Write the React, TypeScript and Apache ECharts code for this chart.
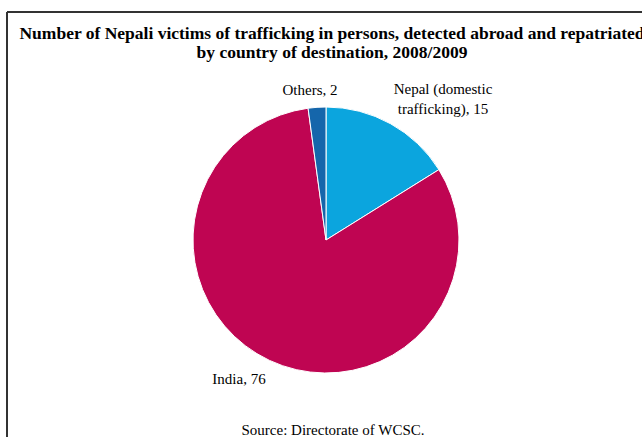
import React, { useEffect, useRef } from "react";
import * as echarts from "echarts";

const categories = ["Nepal (domestic\ntrafficking)", "India", "Others"];
const values = [15, 76, 2];
const colors = ["#0ba5de", "#bf0552", "#1566ab"];
const titleLines = [
  "Number of Nepali victims of trafficking in persons, detected abroad and repatriated",
  "by country of destination, 2008/2009",
];
const sourceText = "Source: Directorate of WCSC.";
const labelPos = [
  { x: 443, y: 79 },
  { x: 239, y: 369 },
  { x: 310, y: 80 },
];

export default function App() {
  const ref = useRef<HTMLDivElement>(null);
  useEffect(() => {
    document.body.style.margin = "0";
    const chart = echarts.init(ref.current!, undefined, { renderer: "svg" });
    chart.setOption({
      animation: false,
      backgroundColor: "#ffffff",
      title: {
        text: titleLines.join("\n"),
        left: 327,
        textAlign: "center",
        top: 18,
        textStyle: {
          fontFamily: "Liberation Serif",
          fontWeight: "bold",
          fontSize: 17.5,
          lineHeight: 19,
          color: "#000",
        },
      },
      graphic: [
        { type: "line", shape: { x1: 7, y1: 12, x2: 642, y2: 12 }, style: { stroke: "#333", lineWidth: 2 } },
        { type: "line", shape: { x1: 7, y1: 12, x2: 7, y2: 437 }, style: { stroke: "#333", lineWidth: 2 } },
        {
          type: "text",
          x: 333,
          y: 422,
          style: {
            text: sourceText,
            fontFamily: "Liberation Serif",
            fontSize: 15,
            fill: "#000",
            align: "center",
          },
        },
      ],
      series: [
        {
          type: "pie",
          center: [326, 240],
          radius: 133,
          startAngle: 90,
          clockwise: true,
          itemStyle: { borderColor: "#fff", borderWidth: 1 },
          label: {
            show: true,
            formatter: (p: any) => `${p.name}, ${p.value}`,
            fontFamily: "Liberation Serif",
            fontSize: 15,
            lineHeight: 20,
            color: "#000",
            align: "center",
          },
          labelLine: { show: false },
          labelLayout: (p: any) => ({
            x: labelPos[p.dataIndex].x,
            y: labelPos[p.dataIndex].y,
            align: "center",
            verticalAlign: "top",
          }),
          emphasis: { disabled: true },
          data: categories.map((c, i) => ({
            name: c,
            value: values[i],
            itemStyle: { color: colors[i] },
          })),
        },
      ],
    });
    return () => chart.dispose();
  }, []);
  return <div ref={ref} style={{ width: 642, height: 437 }} />;
}
